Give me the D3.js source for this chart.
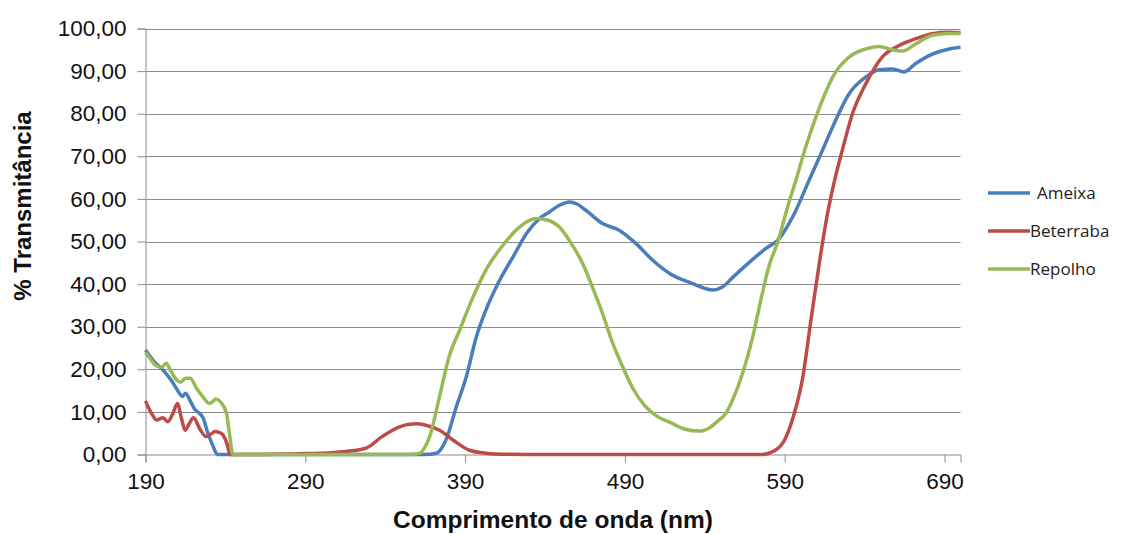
<!DOCTYPE html>
<html>
<head>
<meta charset="utf-8">
<script src="https://cdn.jsdelivr.net/npm/d3@7"></script>
<style>
  body { margin: 0; background: #fff; }
  text { font-family: "Liberation Sans", Arial, sans-serif; }
</style>
</head>
<body>
<svg width="1121" height="534"></svg>
<script>
// Spectrum readings: [wavelength nm, % transmittance]
const ameixa = [
    [190, 24.5], [195, 22], [201, 19.8], [206, 17.5], [211, 14.5], [213, 13.6], [215, 14.4], [218, 12.6],
    [221, 10.5], [224, 9.6], [226, 8.6], [229, 5], [232, 2.2], [235, 0], [260, 0], [300, 0],
    [340, 0], [364, 0], [372, 0.3], [378, 3.4], [384.5, 11.2], [390.7, 18.2], [397, 27.6],
    [403, 33.9], [411.6, 40.9], [420, 46.4], [428.4, 51.9], [436.6, 55.4], [443, 57], [449, 58.5],
    [455.3, 59.3], [460, 58.8], [465.7, 57.3], [476, 54.2], [486.6, 52.6], [497, 49.5], [507.4, 45.6],
    [518, 42.5], [532.4, 40.1], [540, 39], [545, 38.6], [551, 39.3], [557, 41.4], [563.6, 43.7],
    [578, 48.3], [586.6, 50.7], [595, 55.8], [605.3, 64.4], [613.6, 71.4], [620, 76.9], [630.3, 84.7],
    [640.7, 88.6], [649, 90.3], [657.4, 90.5], [664.7, 89.8], [672, 91.8], [682.4, 94], [693, 95.2],
    [700, 95.6]
];
const beterraba = [
    [190, 12.6], [194, 9.5], [197, 8.1], [201, 8.6], [204, 7.7], [207, 9.5], [210, 12], [212.5, 8.5],
    [214.7, 5.7], [217, 7], [220, 8.6], [224, 6], [228, 4.2], [231, 4.8], [233.5, 5.4], [236, 5.2],
    [238.5, 4.6], [241, 2.5], [243, 0], [260, 0], [286, 0.2], [300, 0.3], [315, 0.7], [328, 1.5],
    [338, 4.2], [349, 6.5], [355, 7.1], [360, 7.2], [367, 6.7], [374, 5.7], [382.4, 3.4],
    [392.8, 1], [403, 0.3], [415.7, 0.05], [430, 0], [480, 0], [540, 0], [575, 0], [580, 0.3],
    [588.6, 2.6], [596, 9.7], [601, 17.5], [606.4, 31.5], [611.6, 44.8], [616.8, 56.6], [621, 64],
    [626, 71.4], [632.4, 80], [640.7, 87], [651, 93.3], [661.6, 96], [672, 97.6], [682.4, 98.8],
    [692, 99.1], [700, 99]
];
const repolho = [
    [190, 24], [193, 22.5], [196, 21], [200, 20.5], [203, 21.4], [206, 19.5], [209.5, 17.5], [212, 17],
    [215, 17.9], [218, 17.9], [222, 15.5], [226, 13.5], [230, 12], [232, 12.4], [234, 13], [237, 12.3],
    [240.7, 9.7], [242.5, 5], [244.7, 0], [270, 0], [320, 0], [355, 0], [361.6, 0.3], [364.5, 1.5],
    [367.8, 4.2], [374, 13.6], [380, 23], [386.6, 29.2], [395, 37], [403, 43.3], [413.6, 49.1],
    [424, 53.4], [434.5, 55.4], [442, 55], [449, 53.4], [456, 49.8], [463.6, 44.8], [470, 39],
    [476, 33.1], [482, 26.5], [488.6, 20.6], [495, 15.5], [503, 11.2], [510, 9], [518, 7.6],
    [527, 6], [536.6, 5.5], [543, 6.3], [548, 7.8], [553.2, 9.7], [557.4, 12.8], [563.6, 19],
    [570, 27.6], [575, 36.2], [580, 44], [586, 50.3], [591.7, 58], [597, 64.4], [603, 72],
    [609.5, 79.2], [615, 84.5], [620, 88.6], [630.3, 93.3], [640.7, 95.2], [649, 95.8], [657.4, 95],
    [663.6, 94.7], [672, 96.4], [682.4, 98.4], [693, 98.8], [700, 98.8]
];

const seriesNames = ["Ameixa", "Beterraba", "Repolho"];
const seriesData = [ameixa, beterraba, repolho];
const seriesColors = ["#4a7ebb", "#be4b48", "#98b954"];

const xTicks = [190, 290, 390, 490, 590, 690];
const yTicks = [0, 10, 20, 30, 40, 50, 60, 70, 80, 90, 100];

const svg = d3.select("svg");
const margin = { left: 145.5, right: 960.5, top: 28.5, bottom: 454.5 };

const x = d3.scaleLinear().domain([190, 700]).range([margin.left, margin.right]);
const y = d3.scaleLinear().domain([0, 100]).range([margin.bottom, margin.top]);

const fmt = (v) => d3.format(".2f")(v).replace(".", ",");

// Gridlines.
svg.append("g")
    .selectAll("line")
    .data(yTicks.slice(1))
    .enter()
    .append("line")
    .attr("x1", margin.left)
    .attr("x2", margin.right)
    .attr("y1", (d) => Math.round(y(d)) + 0.5)
    .attr("y2", (d) => Math.round(y(d)) + 0.5)
    .style("stroke", "#8c8c8c")
    .style("stroke-width", 1);

// Y axis.
const yAxis = svg.append("g")
    .attr("transform", `translate(${margin.left},0)`)
    .call(d3.axisLeft(y).tickValues(yTicks).tickFormat(fmt).tickSize(8).tickPadding(11));

// X axis.
const xAxis = svg.append("g")
    .attr("transform", `translate(0,${margin.bottom})`)
    .call(d3.axisBottom(x).tickValues(xTicks).tickSize(8).tickPadding(11));

[yAxis, xAxis].forEach((ax) => {
    ax.select(".domain").style("stroke", "#8c8c8c");
    ax.selectAll(".tick line").style("stroke", "#8c8c8c");
    ax.selectAll("text")
        .style("font-family", "'Liberation Sans', Arial, sans-serif")
        .style("font-size", "22.5px")
        .style("fill", "#111");
});

// Lines.
const line = d3.line()
    .x((d) => x(d[0]))
    .y((d) => y(d[1]))
    .curve(d3.curveMonotoneX);

svg.append("g")
    .selectAll("path")
    .data(seriesData)
    .enter()
    .append("path")
    .attr("d", line)
    .style("fill", "none")
    .style("stroke", (d, i) => seriesColors[i])
    .style("stroke-width", 3.5)
    .style("stroke-linejoin", "round");

// Axis titles.
svg.append("text")
    .attr("transform", "translate(31,206) rotate(-90)")
    .attr("text-anchor", "middle")
    .style("font-size", "24px")
    .style("font-weight", "bold")
    .style("fill", "#111")
    .text("% Transmitância");

svg.append("text")
    .attr("x", 553)
    .attr("y", 528)
    .attr("text-anchor", "middle")
    .style("font-size", "24.5px")
    .style("font-weight", "bold")
    .style("fill", "#111")
    .text("Comprimento de onda (nm)");

// Legend.
const legendY = [193, 231, 269];
const legend = svg.append("g")
    .selectAll("g")
    .data(seriesNames)
    .enter()
    .append("g")
    .attr("transform", (d, i) => `translate(988,${legendY[i]})`);

legend.append("line")
    .attr("x1", 0)
    .attr("x2", 42)
    .style("stroke", (d, i) => seriesColors[i])
    .style("stroke-width", 3.5);

legend.append("text")
    .attr("x", (d, i) => i === 0 ? 49 : 42)
    .attr("dy", "0.35em")
    .style("font-family", "'Open Sans', 'Noto Sans', sans-serif")
    .style("font-size", "17px")
    .style("fill", "#222")
    .text((d) => d);
</script>
</body>
</html>
